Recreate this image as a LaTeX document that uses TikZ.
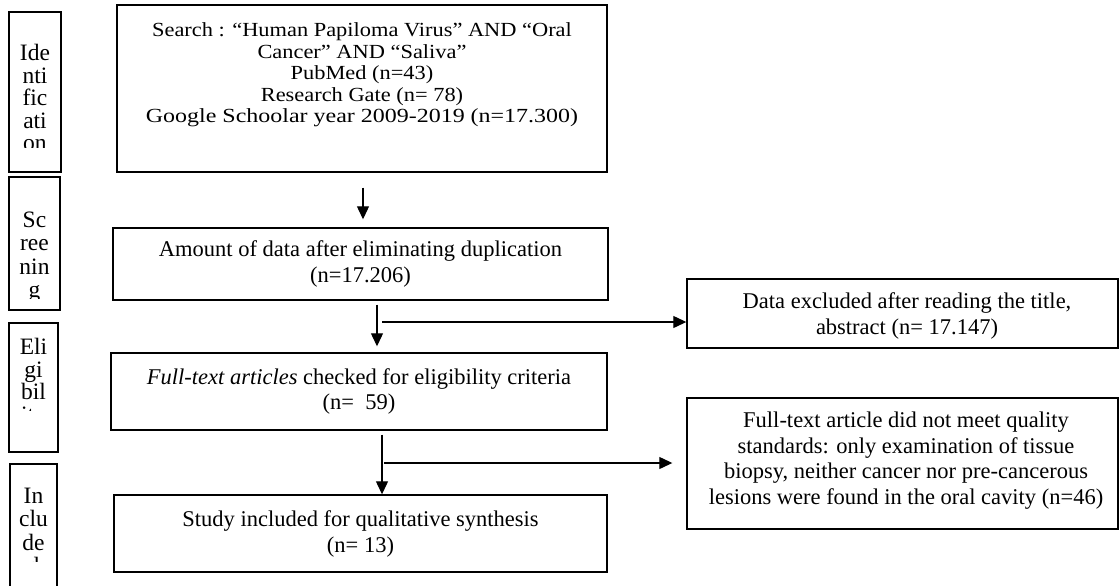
\documentclass[tikz,border=0pt]{standalone}
\usepackage{fontspec}
\setmainfont{Liberation Serif}
\newfontfamily\widefont{Liberation Serif}[FakeStretch=1.12]
\usetikzlibrary{arrows.meta,calc}
\begin{document}
\begin{tikzpicture}[x=1pt,y=-1pt,
  box/.style={draw,line width=1.4pt,inner sep=0pt},
  txt/.style={align=center,inner sep=0pt,font=\fontsize{22.5}{25.5}\selectfont},
  toptxt/.style={align=center,inner sep=0pt,font=\widefont\fontsize{20}{21.5}\selectfont},
  arr/.style={line width=1.2pt,-{Triangle[length=13pt,width=12pt]}},
  lbl/.style={align=center,inner sep=0pt,anchor=north,font=\fontsize{23.5}{22.5}\selectfont}]
\useasboundingbox (0,0) rectangle (1120,586);

% stage labels
\node[box,minimum width=52pt,minimum height=160pt] (l1) at (35,92) {};
\begin{scope}
\clip (9,12) rectangle (61,147);
\node[lbl] (l1t) at (35,44.25) {\strut Ide\\nti\\fic\\ati\\on};
\end{scope}
\node[box,minimum width=51pt,minimum height=133pt] (l2) at (34.5,243.5) {};
\begin{scope}
\clip (9,177) rectangle (60,298);
\node[lbl,font=\fontsize{23.5}{23.5}\selectfont] (l2t) at (34.5,210.5) {\strut Sc\\ree\\nin\\g};
\end{scope}
\node[box,minimum width=49pt,minimum height=129pt] (l3) at (33.5,387.5) {};
\begin{scope}
\clip (9,323) rectangle (58,410);
\node[lbl] (l3t) at (33.5,338.25) {\strut Eli\\gi\\bil\\ity};
\end{scope}
\node[box,minimum width=47pt,minimum height=136pt] (l4) at (33.5,532) {};
\begin{scope}
\clip (10,464) rectangle (57,561);
\node[lbl,font=\fontsize{23.5}{23.5}\selectfont] (l4t) at (33.5,486.5) {\strut In\\clu\\de\\d};
\end{scope}

% main boxes
\node[box,minimum width=490pt,minimum height=167pt] (b1) at (362,88.5) {};
\node[toptxt] (t1) at (362,75) {Search : “Human Papiloma Virus” AND “Oral\\Cancer” AND “Saliva”\\PubMed (n=43)\\Research Gate (n= 78)\\\scalebox{1.07}[1]{Google Schoolar year 2009-2019 (n=17.300)}};

\node[box,minimum width=495pt,minimum height=72pt] (b2) at (360.5,264) {};
\node[txt] (t2) at (360.5,264) {Amount of data after eliminating duplication\\(n=17.206)};

\node[box,minimum width=431pt,minimum height=69pt] (b3) at (902.5,313.5) {};
\node[txt] (t3) at (907,316) {Data excluded after reading the title,\\abstract (n= 17.147)};

\node[box,minimum width=496pt,minimum height=77pt] (b4) at (359,391.5) {};
\node[txt] (t4) at (359,391.5) {\textit{Full-text articles} checked for eligibility criteria\\(n=\ \ 59)};

\node[box,minimum width=431pt,minimum height=131pt] (b5) at (902.5,463.5) {};
\node[txt] (t5) at (906,460.5) {Full-text article did not meet quality\\standards: only examination of tissue\\biopsy, neither cancer nor pre-cancerous\\lesions were found in the oral cavity (n=46)};

\node[box,minimum width=493pt,minimum height=77pt] (b6) at (360.5,533.5) {};
\node[txt] (t6) at (360.5,534) {Study included for qualitative synthesis\\(n= 13)};

% connectors
\coordinate (x1) at (363,0);
\coordinate (x2) at (377,0);
\coordinate (x3) at (382,0);
\coordinate (c2) at (382,322);
\coordinate (c3) at (384,463);
\draw[arr,shorten <=15pt,shorten >=8pt] (b1.south -| x1) -- (b2.north -| x1);
\draw[arr,shorten <=4pt,shorten >=6pt] (b2.south -| x2) -- (b4.north -| x2);
\draw[arr] (c2) -- (c2 -| b3.west);
\draw[arr,shorten <=4pt] (b4.south -| x3) -- (b6.north -| x3);
\draw[arr,shorten >=14pt] (c3) -- (c3 -| b5.west);
\end{tikzpicture}
\end{document}
